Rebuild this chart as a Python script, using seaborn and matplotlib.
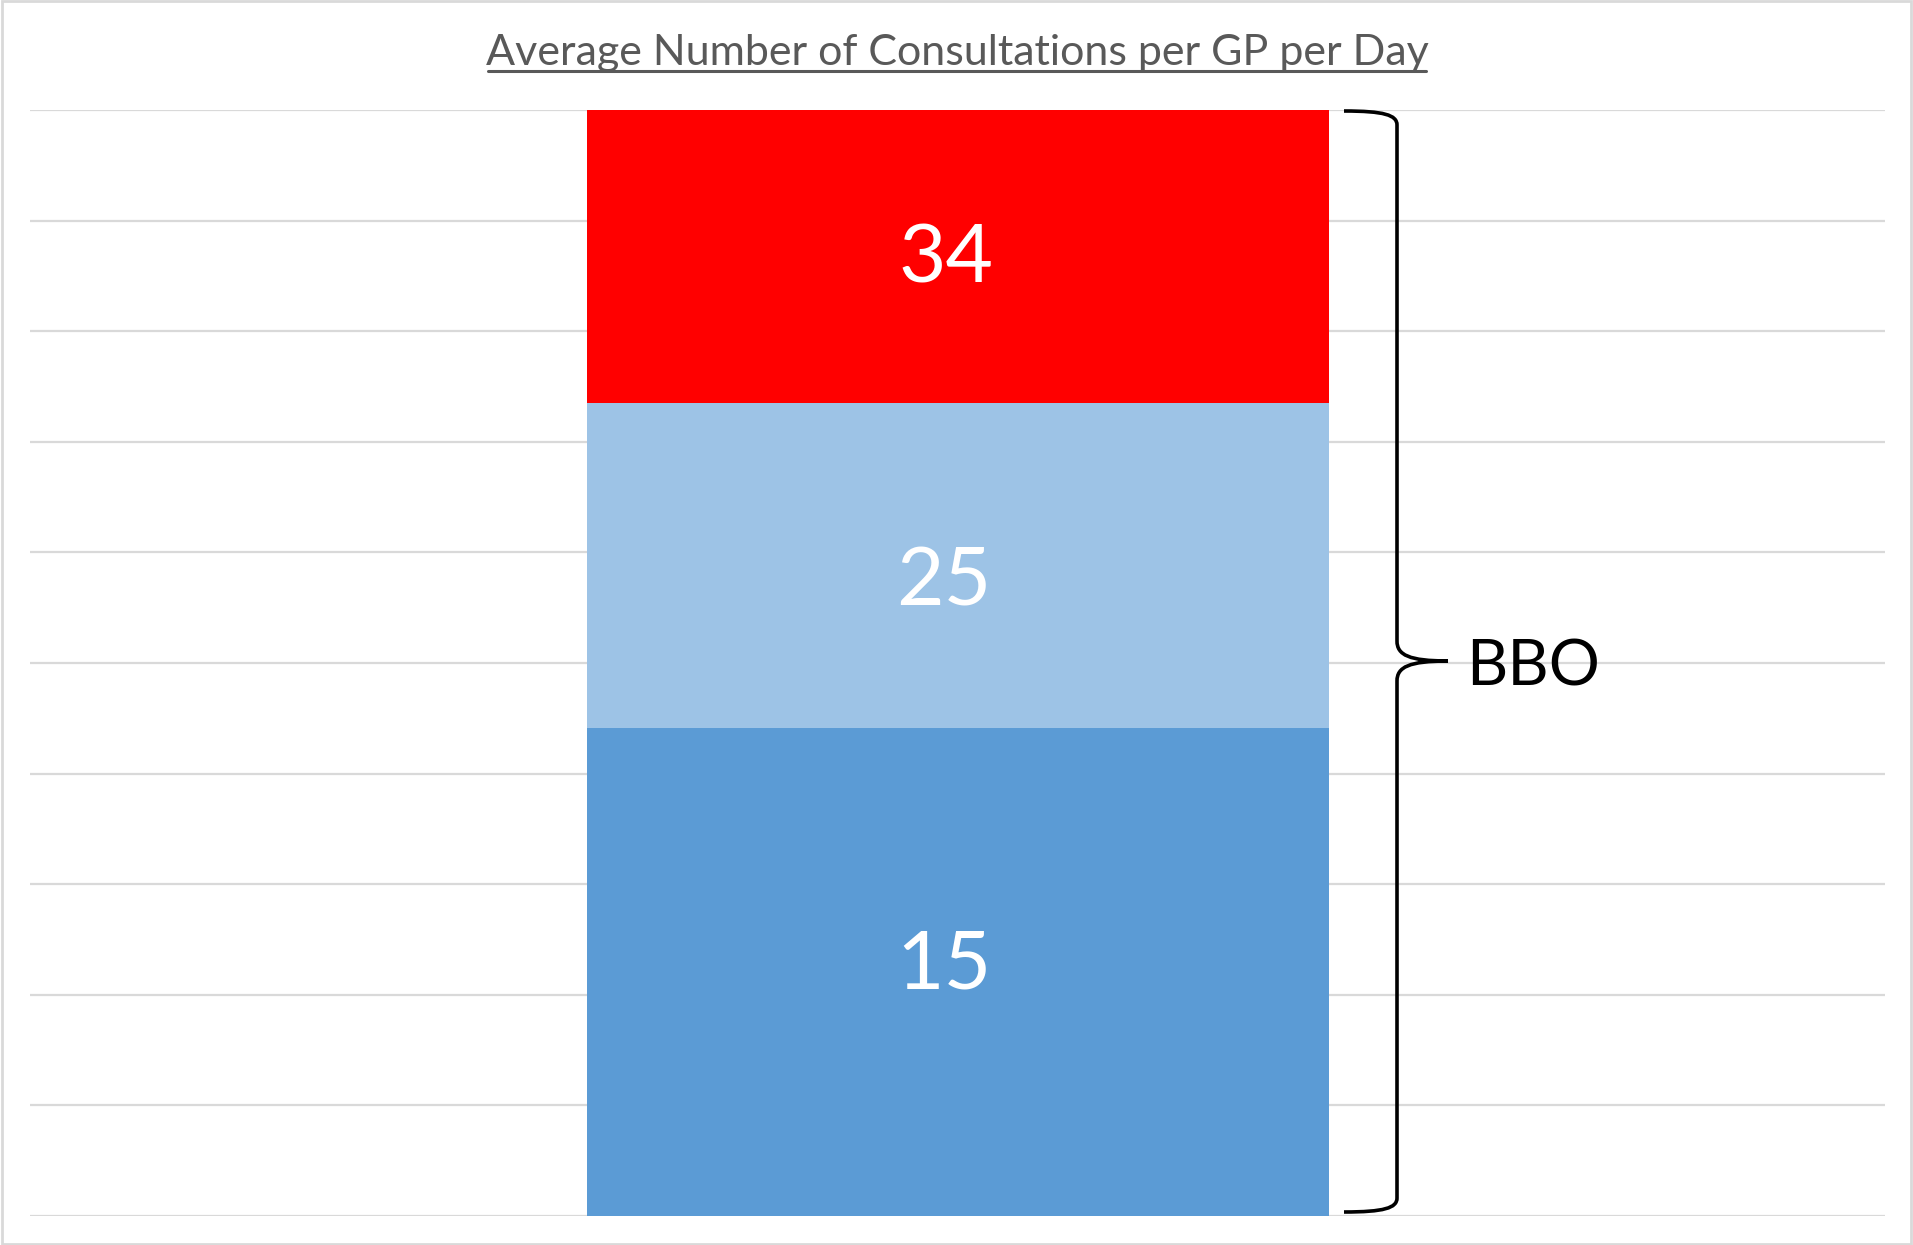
import numpy as np
import pandas as pd
import matplotlib
matplotlib.use("Agg")
import matplotlib.pyplot as plt
from matplotlib.path import Path
from matplotlib.patches import PathPatch, Rectangle
from matplotlib.transforms import offset_copy
import seaborn as sns

# Stacked segments, labelled with their running totals
segment_labels = ["15", "25", "34"]
cumulative_totals = [15, 25, 34]
segment_colors = ["#5B9BD5", "#9DC3E6", "#FF0000"]
category = ["BBO"]
title = "Average Number of Consultations per GP per Day"
group_label = "BBO"

sns.set_theme(style="white")
plt.rcParams["font.family"] = ["Lato", "DejaVu Sans"]

W, H = 1913, 1245
fig = plt.figure(figsize=(W / 100, H / 100), dpi=100)
ax = fig.add_axes([30 / W, (H - 1216) / H, (1885 - 30) / W, (1216 - 110) / H])

# Draw the tallest layer first so the lower totals sit on top of it
for total, color in sorted(zip(cumulative_totals, segment_colors), reverse=True):
    df = pd.DataFrame({"cat": category, "value": [total]})
    sns.barplot(data=df, x="cat", y="value", color=color, saturation=1,
                width=0.4, ax=ax, zorder=3, linewidth=0)

ymax = max(cumulative_totals)
ax.set_ylim(0, ymax)
ax.set_xlim(-0.5, 0.5)
for yv in np.linspace(0, ymax, 11):
    ax.axhline(yv, color="#D9D9D9", lw=1.6, zorder=1)

# Segment labels inside each band (small nudges in points)
label_nudges = [(-10, 5), (-10, -12), (-8, -2)]
lower = [0] + cumulative_totals[:-1]
for lo, hi, lab, (dx, dy) in zip(lower, cumulative_totals, segment_labels, label_nudges):
    tr = offset_copy(ax.transData, fig=fig, x=dx, y=dy, units="points")
    ax.text(0, (lo + hi) / 2, lab, ha="center", va="center",
            color="white", fontsize=59, zorder=5, transform=tr)

ax.set_xticks([])
ax.set_yticks([])
ax.set_xlabel("")
ax.set_ylabel("")
for s in ax.spines.values():
    s.set_visible(False)

# Curly brace spanning the whole bar, in figure pixel space
def px(x, y):
    return (x / W, 1 - y / H)

xs, xv, xt = 1344, 1397, 1448
yt, yb, ym = 111, 1212, 661
verts = [
    px(xs, yt), px(xs + 40, yt), px(xv, yt + 4), px(xv, yt + 14),
    px(xv, ym - 20),
    px(xv, ym - 6), px(xv + 12, ym), px(xt, ym),
    px(xv + 12, ym), px(xv, ym + 6), px(xv, ym + 20),
    px(xv, yb - 14),
    px(xv, yb - 4), px(xs + 40, yb), px(xs, yb),
]
codes = [Path.MOVETO, Path.CURVE4, Path.CURVE4, Path.CURVE4,
         Path.LINETO,
         Path.CURVE4, Path.CURVE4, Path.CURVE4,
         Path.CURVE4, Path.CURVE4, Path.CURVE4,
         Path.LINETO,
         Path.CURVE4, Path.CURVE4, Path.CURVE4]
fig.patches.append(PathPatch(Path(verts, codes), transform=fig.transFigure,
                             fill=False, edgecolor="black", lw=2.6))

fig.text(1466 / W, 1 - 667 / H, group_label, ha="left", va="center",
         fontsize=46, color="black")

fig.text(0.5 * (488 + 1426) / W, 1 - 53 / H, title, ha="center", va="center",
         fontsize=31, color="#595959")
fig.add_artist(plt.Line2D([488 / W, 1426 / W], [1 - 71 / H, 1 - 71 / H],
                          transform=fig.transFigure, color="#595959", lw=2.2))

fig.patches.append(Rectangle((0.001, 0.001), 0.998, 0.998, transform=fig.transFigure,
                             fill=False, edgecolor="#D9D9D9", lw=2))

fig.savefig("out.png", dpi=100)
